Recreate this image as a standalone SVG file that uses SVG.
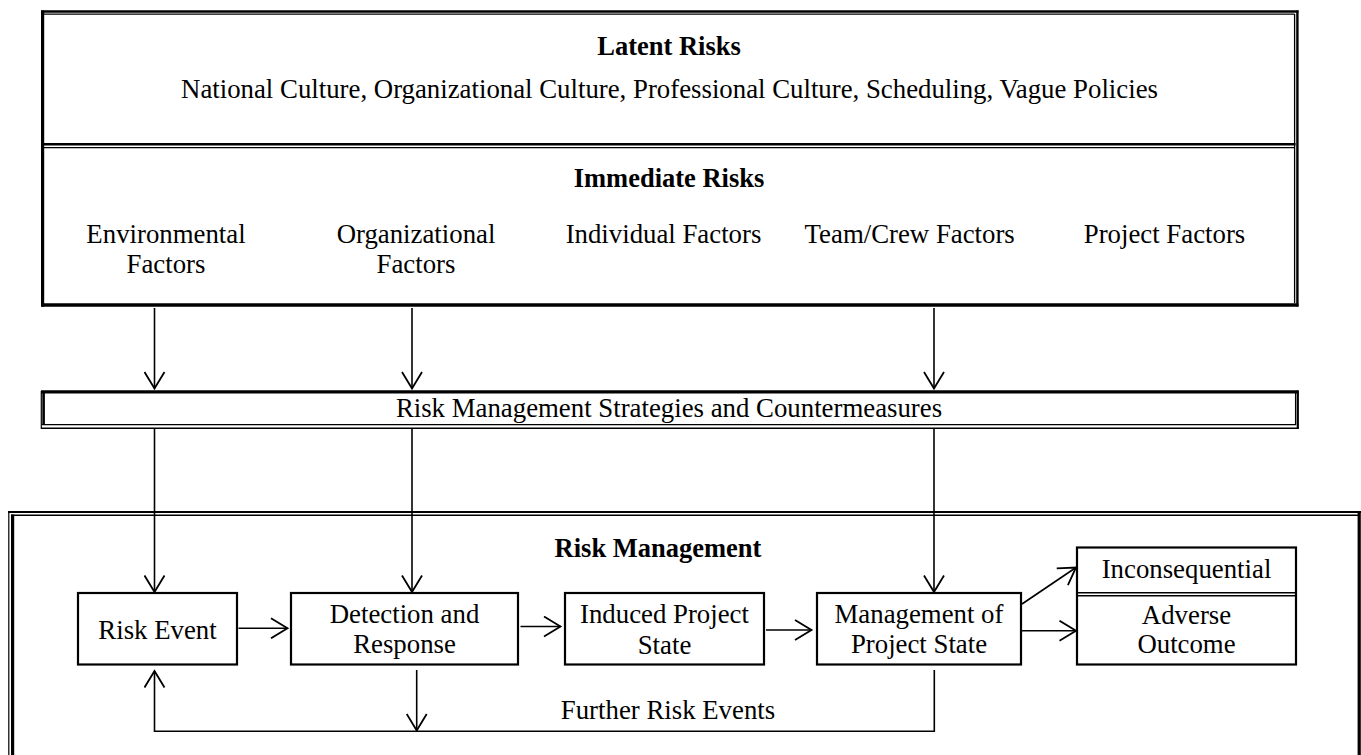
<svg xmlns="http://www.w3.org/2000/svg" width="1361" height="755" viewBox="0 0 1361 755">
<style>
text{font-family:"Liberation Serif","Times New Roman",serif;font-size:26.8px;fill:#000;text-anchor:middle}
.b{font-weight:bold;font-size:26.5px}
.box{fill:none;stroke:#000;stroke-width:2.2}
.bd{stroke:#000;fill:none}
.c{stroke:#000;stroke-width:1.6;fill:none}
</style>
<defs>
<marker id="ah" viewBox="-18 -11 20 22" refX="0" refY="0" markerWidth="20" markerHeight="22" markerUnits="userSpaceOnUse" orient="auto">
<path d="M-16.5,-10 L0,0 L-16.5,10" fill="none" stroke="#000" stroke-width="1.8"/>
</marker>
</defs>
<rect width="1361" height="755" fill="#fff"/>

<g id="latent-immediate">
<line class="bd" x1="41" y1="11.5" x2="1298.5" y2="11.5" stroke-width="2.6"/>
<line class="bd" x1="44" y1="14.2" x2="1294.5" y2="14.2" stroke-width="1.3"/>
<line class="bd" x1="42.6" y1="10.5" x2="42.6" y2="306.5" stroke-width="3.2"/>
<line class="bd" x1="1294.6" y1="14" x2="1294.6" y2="303" stroke-width="1.3"/>
<line class="bd" x1="1297.4" y1="10.5" x2="1297.4" y2="306.5" stroke-width="2.4"/>
<line class="bd" x1="41" y1="144.2" x2="1295.5" y2="144.2" stroke-width="2.6"/>
<line class="bd" x1="44" y1="147.6" x2="1294.5" y2="147.6" stroke-width="1.3"/>
<line class="bd" x1="41" y1="305" x2="1298.5" y2="305" stroke-width="3.6"/>
<text class="b" x="669" y="55">Latent Risks</text>
<text x="669.5" y="97.5">National Culture, Organizational Culture, Professional Culture, Scheduling, Vague Policies</text>
<text class="b" x="669" y="187">Immediate Risks</text>
<text x="166" y="243.3">Environmental</text>
<text x="166" y="273.3">Factors</text>
<text x="416" y="243.3">Organizational</text>
<text x="416" y="273.3">Factors</text>
<text x="663.5" y="243.3">Individual Factors</text>
<text x="909.7" y="243.3">Team/Crew Factors</text>
<text x="1164.5" y="243.3">Project Factors</text>
</g>

<g id="strategies">
<line class="bd" x1="41" y1="391.8" x2="1298.5" y2="391.8" stroke-width="3.2"/>
<line class="bd" x1="41.3" y1="391" x2="41.3" y2="429" stroke-width="1.2"/>
<line class="bd" x1="43.6" y1="391" x2="43.6" y2="425" stroke-width="2.6"/>
<line class="bd" x1="1295.6" y1="392" x2="1295.6" y2="425" stroke-width="1.3"/>
<line class="bd" x1="1297.8" y1="390.5" x2="1297.8" y2="429" stroke-width="2.2"/>
<line class="bd" x1="42" y1="424.6" x2="1296" y2="424.6" stroke-width="1.4"/>
<line class="bd" x1="41" y1="428.3" x2="1298.5" y2="428.3" stroke-width="1.6"/>
<text x="669" y="416.5">Risk Management Strategies and Countermeasures</text>
</g>

<g id="risk-management">
<line class="bd" x1="8" y1="512" x2="1361" y2="512" stroke-width="1.8"/>
<line class="bd" x1="11" y1="515.2" x2="1358" y2="515.2" stroke-width="1.4"/>
<line class="bd" x1="8.8" y1="511" x2="8.8" y2="755" stroke-width="1.2"/>
<line class="bd" x1="12.6" y1="514.5" x2="12.6" y2="755" stroke-width="3.2"/>
<line class="bd" x1="1359.2" y1="511" x2="1359.2" y2="755" stroke-width="3.2"/>
<text class="b" x="658" y="556.5">Risk Management</text>
<text x="668" y="719.3">Further Risk Events</text>
</g>

<g id="risk-event">
<rect class="box" x="78" y="593" width="159" height="71.5"/>
<text x="157.5" y="638.5">Risk Event</text>
</g>
<g id="detection-response">
<rect class="box" x="291" y="593" width="227" height="71.5"/>
<text x="404.5" y="623.3">Detection and</text>
<text x="404.5" y="653.3">Response</text>
</g>
<g id="induced-state">
<rect class="box" x="565" y="593" width="199" height="71.5"/>
<text x="664.5" y="623.3">Induced Project</text>
<text x="664.5" y="653.8">State</text>
</g>
<g id="management-state">
<rect class="box" x="817" y="593" width="204" height="71.5"/>
<text x="919" y="623.3">Management of</text>
<text x="919" y="653.3">Project State</text>
</g>
<g id="outcomes">
<rect class="box" x="1077" y="547.5" width="219" height="117"/>
<line class="bd" x1="1077" y1="592.8" x2="1296" y2="592.8" stroke-width="1.6"/>
<line class="bd" x1="1077" y1="595.8" x2="1296" y2="595.8" stroke-width="1.6"/>
<text x="1186.5" y="578.3">Inconsequential</text>
<text x="1186.5" y="624">Adverse</text>
<text x="1186.5" y="653.3">Outcome</text>
</g>

<g id="connectors">
<line class="c" x1="154.5" y1="308" x2="154.5" y2="388.5" marker-end="url(#ah)"/>
<line class="c" x1="412" y1="308" x2="412" y2="388.5" marker-end="url(#ah)"/>
<line class="c" x1="934" y1="308" x2="934" y2="388.5" marker-end="url(#ah)"/>
<line class="c" x1="154.5" y1="429" x2="154.5" y2="592" marker-end="url(#ah)"/>
<line class="c" x1="412" y1="429" x2="412" y2="592" marker-end="url(#ah)"/>
<line class="c" x1="934" y1="429" x2="934" y2="592" marker-end="url(#ah)"/>
<line class="c" x1="238.5" y1="628.3" x2="287.5" y2="628.3" marker-end="url(#ah)"/>
<line class="c" x1="520.5" y1="626.5" x2="560.5" y2="626.5" marker-end="url(#ah)"/>
<line class="c" x1="766" y1="630" x2="811.5" y2="630" marker-end="url(#ah)"/>
<line class="c" x1="1022" y1="604" x2="1076" y2="567.5" marker-end="url(#ah)"/>
<line class="c" x1="1022" y1="630.7" x2="1076" y2="630.7" marker-end="url(#ah)"/>
<line class="c" x1="416.7" y1="670" x2="416.7" y2="730.5" marker-end="url(#ah)"/>
<polyline class="c" points="934.3,670 934.3,731.3 154.5,731.3 154.5,671" marker-end="url(#ah)"/>
</g>
</svg>
